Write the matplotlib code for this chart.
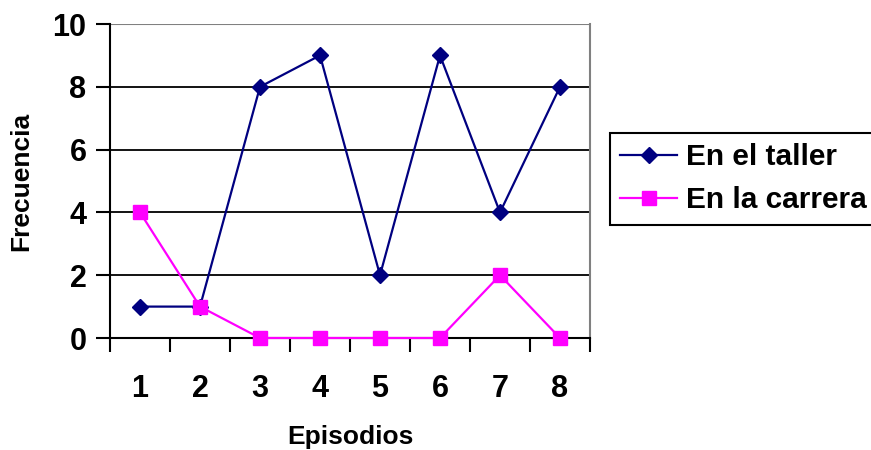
import matplotlib
matplotlib.use('Agg')
import matplotlib.pyplot as plt
import numpy as np

matplotlib.rcParams['font.family'] = ['Liberation Sans', 'DejaVu Sans']
matplotlib.rcParams['font.weight'] = 'bold'

episodios = [1, 2, 3, 4, 5, 6, 7, 8]
en_el_taller = [1, 1, 8, 9, 2, 9, 4, 8]
en_la_carrera = [4, 1, 0, 0, 0, 0, 2, 0]
y_ticks = [0, 2, 4, 6, 8, 10]


def main():
    fig = plt.figure(figsize=(8.71, 4.5), dpi=100)
    ax = fig.add_axes([110 / 871, 1 - 338 / 450, 480 / 871, 314 / 450])

    ax.plot(episodios, en_el_taller, color='#000080', lw=1.6, marker='D',
            ms=8.5, label='En el taller', zorder=3, clip_on=False)
    ax.plot(episodios, en_la_carrera, color='#FF00FF', lw=1.6, marker='s',
            ms=9.5, label='En la carrera', zorder=3, clip_on=False)

    ax.set_xlim(0.5, 8.5)
    ax.set_ylim(0, 10)

    # ticks between categories, labels at category centers
    ax.set_xticks(np.arange(0.5, 9.0, 1.0))
    ax.set_xticklabels([])
    ax.set_xticks(episodios, minor=True)
    ax.set_xticklabels([str(e) for e in episodios], minor=True)
    ax.tick_params(axis='x', which='major', direction='out', length=10,
                   width=1.5, color='black')
    ax.tick_params(axis='x', which='minor', length=0, pad=26, labelsize=22)

    ax.set_yticks(y_ticks)
    ax.tick_params(axis='y', direction='out', length=10, width=1.5, pad=7,
                   labelsize=22)

    for y in y_ticks[1:-1]:
        ax.axhline(y, color='black', lw=1.3, zorder=1)
    ax.axhline(10, color='#808080', lw=1.5, zorder=1)

    ax.spines['left'].set_linewidth(1.5)
    ax.spines['bottom'].set_linewidth(1.5)
    ax.spines['top'].set_visible(False)
    ax.spines['right'].set_color('#808080')
    ax.spines['right'].set_linewidth(1.5)

    ax.set_xlabel('Episodios', fontsize=19, fontweight='bold', labelpad=15)
    ax.set_ylabel('Frecuencia', fontsize=19, fontweight='bold', labelpad=14)

    leg = fig.legend(loc='upper left', bbox_to_anchor=(610 / 871, 1 - 133 / 450),
                     borderaxespad=0, fontsize=21.5, fancybox=False,
                     edgecolor='black', framealpha=1, handlelength=1.9,
                     handletextpad=0.3, borderpad=0.35, labelspacing=0.5)
    leg.get_frame().set_linewidth(1.5)

    fig.savefig('out.png', dpi=100)


if __name__ == '__main__':
    main()
